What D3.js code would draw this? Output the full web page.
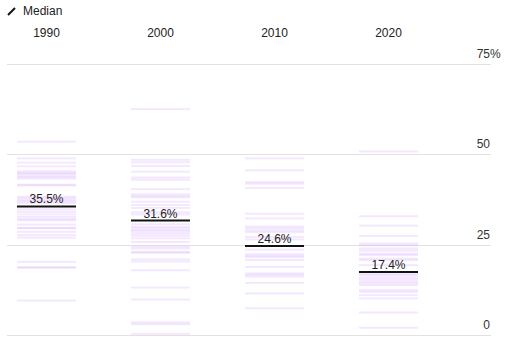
<!DOCTYPE html>
<html>
<head>
<meta charset="utf-8">
<script src="https://cdn.jsdelivr.net/npm/d3@7"></script>
<style>
  body { margin: 0; background: #fff; }
  svg { font-family: "Liberation Sans", Arial, sans-serif; }
</style>
</head>
<body>
<svg id="chart" width="512" height="348"></svg>
<script>
var years = ["1990", "2000", "2010", "2020"];
var medians = [35.5, 31.6, 24.6, 17.4];
var yTicks = [0, 25, 50, 75];

var values1990 = [53.4, 48.8, 47.6, 46.6, 45.2, 44.8, 44.5, 44.0, 43.6, 43.2, 41.5, 41.3,
    38.2, 37.8, 37.3, 36.9, 36.5, 34.7, 34.0, 33.3, 32.6, 32.0, 31.7, 30.5, 29.6, 29.5,
    28.5, 27.6, 26.9, 20.2, 18.7, 18.6, 9.5];
var values2000 = [62.4, 48.4, 47.7, 46.7, 45.1, 43.5, 42.9, 40.3, 38.9, 38.4, 38.0, 36.8,
    35.9, 35.1, 33.9, 33.3, 30.6, 29.9, 29.5, 29.0, 28.6, 28.0, 27.4, 26.7, 25.7, 24.4,
    23.9, 23.0, 22.7, 20.9, 20.3, 17.9, 13.1, 9.8, 3.5, 3.0, 0.3];
var values2010 = [48.8, 45.5, 42.2, 41.8, 40.6, 33.5, 32.2, 30.0, 29.5, 28.9, 28.4, 27.1,
    26.4, 23.6, 22.3, 21.9, 21.5, 20.7, 18.8, 17.0, 16.6, 16.1, 14.4, 11.5, 7.4];
var values2020 = [50.7, 32.8, 30.2, 27.4, 25.3, 24.8, 23.9, 23.3, 22.5, 22.1, 21.1, 20.7,
    19.3, 16.9, 16.5, 15.9, 15.4, 14.8, 14.3, 13.8, 12.4, 11.9, 11.0, 10.1, 6.2, 2.0];
var columnValues = [values1990, values2000, values2010, values2020];

var svg = d3.select("#chart");
var colWidth = 59;

var x = d3.scalePoint().domain(years).range([46.5, 388.5]);
var y = d3.scaleLinear().domain([0, 75]).range([335, 63.5]);

// legend
svg.append("line")
    .attr("x1", 8).attr("y1", 15).attr("x2", 15).attr("y2", 8)
    .attr("stroke", "#111").attr("stroke-width", 2);
svg.append("text")
    .attr("x", 23).attr("y", 15)
    .attr("font-size", 12).attr("fill", "#222")
    .text("Median");

// gridlines + right axis labels
var grid = svg.append("g");
grid.selectAll("line")
    .data(yTicks)
    .join("line")
    .attr("x1", 7).attr("x2", 491)
    .attr("y1", d => Math.round(y(d)) + 0.5)
    .attr("y2", d => Math.round(y(d)) + 0.5)
    .attr("stroke", "#e2e2e2").attr("stroke-width", 1);
grid.selectAll("text")
    .data(yTicks)
    .join("text")
    .attr("x", 490)
    .attr("y", d => y(d) - 6)
    .attr("text-anchor", "end")
    .attr("font-size", 12).attr("fill", "#333")
    .text(d => d);
svg.append("text")
    .attr("x", 490).attr("y", y(75) - 6)
    .attr("font-size", 12).attr("fill", "#333")
    .text("%");

// year labels
svg.append("g").selectAll("text")
    .data(years)
    .join("text")
    .attr("x", d => x(d))
    .attr("y", 37)
    .attr("text-anchor", "middle")
    .attr("font-size", 12).attr("fill", "#222")
    .text(d => d);

// strips
years.forEach(function (yr, i) {
    svg.append("g").selectAll("rect")
        .data(columnValues[i])
        .join("rect")
        .attr("x", x(yr) - colWidth / 2)
        .attr("width", colWidth)
        .attr("y", d => y(d) - 1)
        .attr("height", 2)
        .attr("fill", "#cf96fa")
        .attr("fill-opacity", 0.22);
});

// medians
var med = svg.append("g");
med.selectAll("line")
    .data(years)
    .join("line")
    .attr("x1", d => x(d) - colWidth / 2)
    .attr("x2", d => x(d) + colWidth / 2)
    .attr("y1", (d, i) => y(medians[i]))
    .attr("y2", (d, i) => y(medians[i]))
    .attr("stroke", "#111").attr("stroke-width", 2);
med.selectAll("text")
    .data(years)
    .join("text")
    .attr("x", d => x(d))
    .attr("y", (d, i) => y(medians[i]) - 3)
    .attr("text-anchor", "middle")
    .attr("font-size", 12).attr("fill", "#222")
    .text((d, i) => d3.format(".1f")(medians[i]) + "%");
</script>
</body>
</html>
